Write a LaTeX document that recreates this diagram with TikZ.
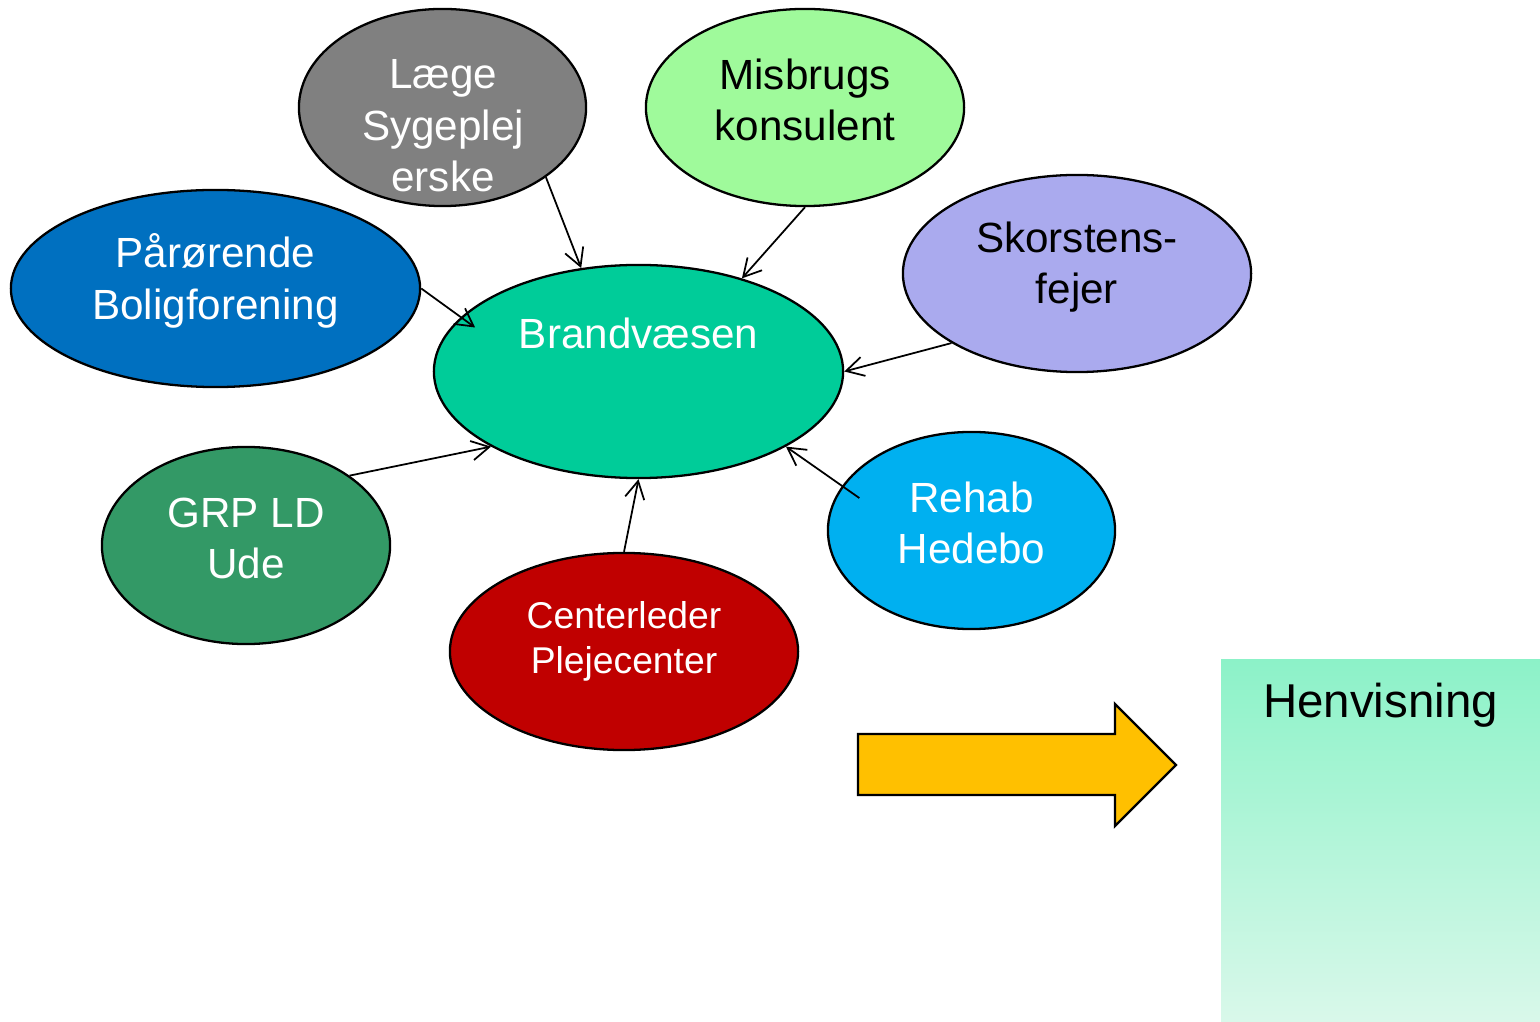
\documentclass[tikz,border=0pt]{standalone}
\usepackage{fontspec}
\setmainfont{Liberation Sans}
\usetikzlibrary{shapes.geometric,arrows.meta}
\definecolor{cgray}{HTML}{808080}
\definecolor{cmis}{HTML}{9FFA9B}
\definecolor{cpar}{HTML}{0070C0}
\definecolor{cbrand}{HTML}{00CC99}
\definecolor{cskor}{HTML}{AAAAEE}
\definecolor{cgrp}{HTML}{339966}
\definecolor{creh}{HTML}{00B0F0}
\definecolor{ccen}{HTML}{C00000}
\definecolor{carrow}{HTML}{FFC000}
\definecolor{ctop}{HTML}{8CF2C8}
\definecolor{cbot}{HTML}{D9F8EA}
\tikzset{
  blob/.style={ellipse,draw=black,line width=0.65pt,inner sep=0pt},
  lbl/.style={align=center,font=\fontsize{12}{14.6}\selectfont,inner sep=0pt},
  conn/.style={line width=0.5pt,-{Straight Barb[length=5pt,width=5.5pt]}}
}
\begin{document}
\begin{tikzpicture}[x=0.01cm,y=-0.01cm]
\useasboundingbox (0,0) rectangle (1540,1022);
% ellipses
\node[blob,fill=cgray,minimum width=2.87cm,minimum height=1.97cm] (lae) at (442.5,107.5) {};
\node[blob,fill=cmis,minimum width=3.18cm,minimum height=1.97cm] (mis) at (805,107.5) {};
\node[blob,fill=cpar,minimum width=4.09cm,minimum height=1.97cm] (par) at (215.5,288.5) {};
\node[blob,fill=cbrand,minimum width=4.09cm,minimum height=2.13cm] (bra) at (638.5,371.5) {};
\node[blob,fill=cskor,minimum width=3.48cm,minimum height=1.97cm] (sko) at (1077,273.5) {};
\node[blob,fill=cgrp,minimum width=2.88cm,minimum height=1.97cm] (grp) at (246,545.5) {};
\node[blob,fill=creh,minimum width=2.87cm,minimum height=1.97cm] (reh) at (971.5,530.5) {};
\node[blob,fill=ccen,minimum width=3.48cm,minimum height=1.97cm] (cen) at (624,651.5) {};
% labels
\node[lbl,text=white] (laet) at (443,126) {Læge\\Sygeplej\\erske};
\node[lbl,text=black] (mist) at (805,100) {Misbrugs\\konsulent};
\node[lbl,text=white] (part) at (215.5,281) {Pårørende\\Boligforening};
\node[lbl,text=white] (brat) at (638.5,333) {Brandvæsen};
\node[lbl,text=black] (skot) at (1077,267) {Skorstens-\\fejer};
\node[lbl,text=white] (grpt) at (246,538.5) {GRP LD\\Ude};
\node[lbl,text=white] (reht) at (971.5,523) {Rehab\\Hedebo};
\node[lbl,text=white,font=\fontsize{10.6}{12.8}\selectfont] (cent) at (624,641) {Centerleder\\Plejecenter};
% connectors
\draw[conn] (lae.-34.5) -- (bra.119.8);
\draw[conn] (mis.-90) -- (bra.42.6);
\draw[conn,shorten >=-5pt] (par.0) -- (bra.163.7);
\draw[conn] (sko.209.7) -- (bra.-0.4);
\draw[conn] (grp.34.9) -- (bra.207.3);
\draw[conn] (cen.90) -- (bra.-90);
\draw[conn,shorten <=-6pt] (reh.161.3) -- (bra.-27.3);
% block arrow
\draw[fill=carrow,line width=0.65pt] (858,734) coordinate (ba) -- (1115,734) -- (1115,704) -- (1176,765) coordinate (btip) -- (1115,826) -- (1115,795) -- (858,795) -- cycle;
% Henvisning box
\shade[top color=ctop,bottom color=cbot] (1221,659) rectangle (1540,1022);
\node[font=\fontsize{13.5}{16}\selectfont,anchor=base,inner sep=0pt] (hen) at (1380.5,717) {Henvisning};
\end{tikzpicture}
\end{document}
